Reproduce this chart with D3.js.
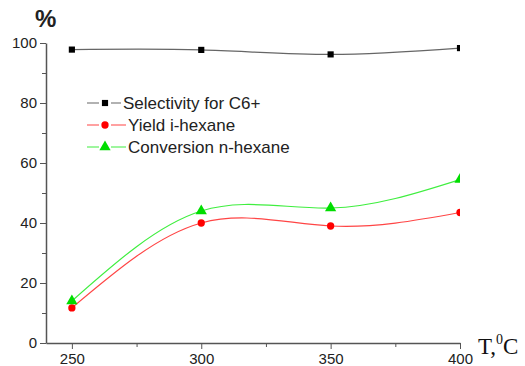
<!DOCTYPE html>
<html>
<head>
<meta charset="utf-8">
<script src="https://cdn.jsdelivr.net/npm/d3@7"></script>
<style>
  body { margin: 0; background: #fff; }
  svg { font-family: "Liberation Sans", Arial, sans-serif; }
</style>
</head>
<body>
<div id="chart"></div>
<script>
var temps = [250, 300, 350, 400];
var selectivity = [97.8, 97.7, 96.2, 98.3];
var yieldIso = [11.7, 40.0, 39.0, 43.5];
var conversion = [14.0, 44.0, 45.0, 54.5];
var yTicks = [0, 20, 40, 60, 80, 100];
var xTicks = [250, 300, 350, 400];

var width = 525, height = 366;
var margin = { left: 46, right: 65, top: 43, bottom: 23 };

var svg = d3.select("#chart").append("svg")
    .attr("width", width)
    .attr("height", height);

var x = d3.scaleLinear().domain([240, 400]).range([margin.left, width - margin.right]);
var y = d3.scaleLinear().domain([0, 100]).range([height - margin.bottom, margin.top]);

// minor ticks
var yMinor = d3.range(10, 100, 20);
var xMinor = [275, 325, 375];

svg.append("g")
    .attr("transform", "translate(0," + y(0) + ")")
    .call(d3.axisBottom(x).tickValues(xMinor).tickSize(4).tickFormat(""))
    .call(g => g.select(".domain").remove())
    .selectAll("line").attr("stroke", "#555");

svg.append("g")
    .attr("transform", "translate(" + x(240) + ",0)")
    .call(d3.axisLeft(y).tickValues(yMinor).tickSize(4).tickFormat(""))
    .call(g => g.select(".domain").remove())
    .selectAll("line").attr("stroke", "#555");

var xAxis = svg.append("g")
    .attr("transform", "translate(0," + y(0) + ")")
    .call(d3.axisBottom(x).tickValues(xTicks).tickSize(6).tickSizeOuter(0).tickPadding(4));

var yAxis = svg.append("g")
    .attr("transform", "translate(" + x(240) + ",0)")
    .call(d3.axisLeft(y).tickValues(yTicks).tickSize(6).tickSizeOuter(0).tickPadding(3));

[xAxis, yAxis].forEach(function (g) {
    g.select(".domain").attr("stroke", "#555").attr("stroke-width", 1.5);
    g.selectAll(".tick line").attr("stroke", "#555");
    g.selectAll("text").attr("font-size", 15).attr("fill", "#222")
        .attr("font-family", "Liberation Sans, Arial, sans-serif");
});

// axis titles
svg.append("text")
    .attr("x", 35).attr("y", 27)
    .attr("font-size", 24).attr("font-weight", "bold")
    .attr("fill", "#222")
    .text("%");

var tl = svg.append("text")
    .attr("x", 478).attr("y", 354)
    .attr("font-family", "Liberation Serif, Times New Roman, serif")
    .attr("font-size", 23).attr("fill", "#111");
tl.append("tspan").text("T,");
tl.append("tspan").attr("font-size", 14).attr("dy", -10).text("0");
tl.append("tspan").attr("dy", 10).text("C");

// clip at the right end of the axis
svg.append("clipPath").attr("id", "plotclip")
    .append("rect")
    .attr("x", x(240)).attr("y", 0)
    .attr("width", x(400) - x(240)).attr("height", height);

var series = [
    { name: "Selectivity for C6+", values: selectivity, line: "#666", mark: "#000", shape: "square" },
    { name: "Yield i-hexane", values: yieldIso, line: "#ff4545", mark: "#ff0000", shape: "circle" },
    { name: "Conversion n-hexane", values: conversion, line: "#3fee3f", mark: "#00dd00", shape: "triangle" }
];

var line = d3.line()
    .x(d => x(d[0]))
    .y(d => y(d[1]))
    .curve(d3.curveNatural);

function symbolFor(shape) {
    if (shape === "square") return d3.symbol().type(d3.symbolSquare).size(38);
    if (shape === "circle") return d3.symbol().type(d3.symbolCircle).size(42);
    return d3.symbol().type(d3.symbolTriangle).size(55);
}

var plot = svg.append("g").attr("clip-path", "url(#plotclip)");

series.forEach(function (s) {
    var pts = temps.map((t, i) => [t, s.values[i]]);
    plot.append("path")
        .attr("d", line(pts))
        .attr("fill", "none")
        .attr("stroke", s.line)
        .attr("stroke-width", 1.2);
    plot.selectAll(null)
        .data(pts)
        .enter().append("path")
        .attr("transform", d => "translate(" + x(d[0]) + "," + y(d[1]) + ")")
        .attr("d", symbolFor(s.shape)())
        .attr("fill", s.mark);
});

// legend
var legend = svg.append("g");
series.forEach(function (s, i) {
    var ly = 103 + i * 22;
    var tx = i === 0 ? 123 : 128;
    legend.append("line")
        .attr("x1", 87).attr("x2", tx - 2)
        .attr("y1", ly).attr("y2", ly)
        .attr("stroke", s.line).attr("stroke-width", 1.2);
    legend.append("rect")
        .attr("x", 99).attr("y", ly - 5).attr("width", 12).attr("height", 10)
        .attr("fill", "#fff");
    legend.append("path")
        .attr("transform", "translate(105," + ly + ")")
        .attr("d", symbolFor(s.shape)())
        .attr("fill", s.mark);
    legend.append("text")
        .attr("x", tx).attr("y", ly + 6)
        .attr("font-size", 17).attr("fill", "#222")
        .text(s.name);
});
</script>
</body>
</html>
